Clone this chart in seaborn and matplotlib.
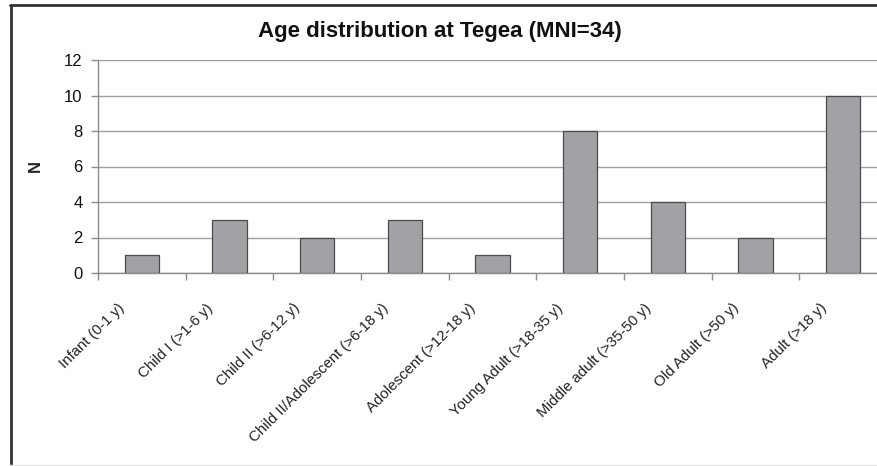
import numpy as np
import pandas as pd
import seaborn as sns
import matplotlib.pyplot as plt
import matplotlib.transforms as mtrans
from matplotlib.lines import Line2D

categories = ["Infant (0-1 y)", "Child I (>1-6 y)", "Child II (>6-12 y)",
              "Child II/Adolescent (>6-18 y)", "Adolescent (>12-18 y)",
              "Young Adult (>18-35 y)", "Middle adult (>35-50 y)",
              "Old Adult (>50 y)", "Adult (>18 y)"]
counts = [1, 3, 2, 3, 1, 8, 4, 2, 10]
y_ticks = [0, 2, 4, 6, 8, 10, 12]

sns.set_theme(style="white")
plt.rcParams["font.family"] = ["Liberation Sans", "DejaVu Sans"]

df = pd.DataFrame({"Age": categories, "N": counts})

fig = plt.figure(figsize=(8.77, 4.66), dpi=100)
ax = fig.add_axes([98 / 877, 1 - 273 / 466, 789 / 877, 213 / 466])

sns.barplot(data=df, x="Age", y="N", color="#a2a2a6", saturation=1,
            width=0.39, edgecolor="#4a4a4a", linewidth=0.9, ax=ax, zorder=3)

ax.set_xlim(-0.5, len(categories) - 0.5)
ax.set_ylim(0, 12)
ax.set_yticks(y_ticks)
ax.yaxis.grid(True, color="#a0a0a0", linewidth=1.0, zorder=0)
ax.set_axisbelow(True)

for s in ["top", "right"]:
    ax.spines[s].set_visible(False)
for s in ["left", "bottom"]:
    ax.spines[s].set_color("#8c8c8c")
    ax.spines[s].set_linewidth(1.0)

ax.tick_params(axis="y", which="major", left=True, length=5, width=1.0,
               color="#8c8c8c", labelsize=12, labelcolor="#111111", pad=6)
ax.set_xticks(np.arange(len(categories)))
ax.set_xticks(np.arange(-0.5, len(categories)), minor=True)
ax.tick_params(axis="x", which="major", length=0, pad=20)
ax.tick_params(axis="x", which="minor", bottom=True, length=5, width=1.0,
               color="#8c8c8c")
ax.set_xticklabels(categories, rotation=45, ha="right", rotation_mode="anchor",
                   fontsize=10.8, color="#222222")
shift = mtrans.ScaledTranslation(-0.24, 0, fig.dpi_scale_trans)
for lab in ax.get_xticklabels():
    lab.set_transform(lab.get_transform() + shift)

ax.set_xlabel("")
ax.set_ylabel("N", fontsize=12, fontweight="bold", rotation=90)
ax.yaxis.set_label_coords(-0.07, 0.5)

fig.text(0.502, 1 - 32 / 466, "Age distribution at Tegea (MNI=34)",
         ha="center", va="center", fontsize=16, fontweight="bold",
         color="#111111")

# outer chart frame
fig.add_artist(Line2D([10.5 / 877, 10.5 / 877], [0, 1 - 4.5 / 466],
                      transform=fig.transFigure, color="#333333", linewidth=2))
fig.add_artist(Line2D([10 / 877, 1], [1 - 4.5 / 466, 1 - 4.5 / 466],
                      transform=fig.transFigure, color="#333333", linewidth=2))
fig.add_artist(Line2D([10 / 877, 1], [1.5 / 466, 1.5 / 466],
                      transform=fig.transFigure, color="#e6e6e6", linewidth=1))

fig.savefig("out.png", dpi=100)
